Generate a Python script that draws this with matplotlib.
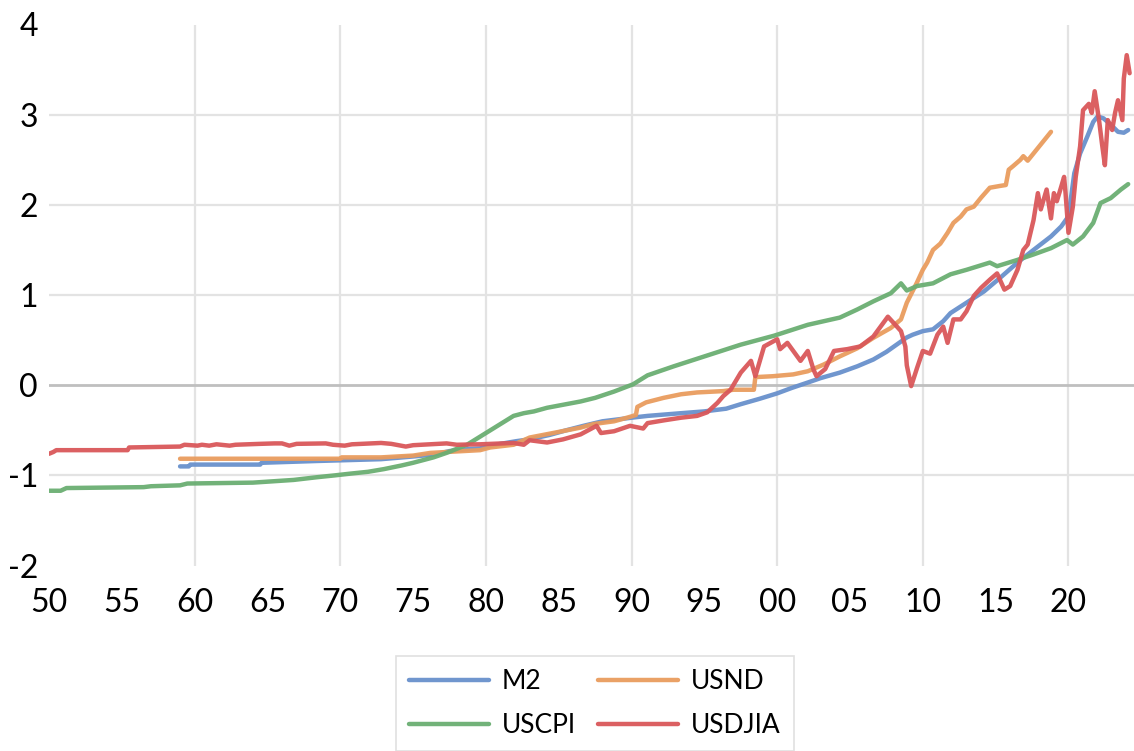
import matplotlib
matplotlib.use("Agg")
import matplotlib.pyplot as plt

plt.rcParams['font.family'] = ['Lato', 'DejaVu Sans']

# ---- data ----
m2_x = [1959.0, 1959.6, 1959.7, 1964.5, 1964.6, 1968.4, 1972.8, 1975.0, 1976.4, 1977.5,
        1978.7, 1979.6, 1981.0, 1982.1, 1983.0, 1984.4, 1985.5, 1986.7, 1988.0, 1989.0,
        1990.0, 1991.1, 1993.4, 1995.0, 1996.5, 1997.5, 1998.8, 2000.0, 2001.0, 2002.1,
        2003.0, 2004.3, 2005.5, 2006.6, 2007.5, 2008.2, 2008.9, 2009.3, 2010.0, 2010.7,
        2011.4, 2011.9, 2013.0, 2014.2, 2015.3, 2016.5, 2017.6, 2018.8, 2019.5, 2019.9,
        2020.0, 2020.4, 2020.8, 2021.3, 2021.7, 2022.0, 2022.4, 2022.9, 2023.4, 2023.8, 2024.1]
m2_y = [-0.90, -0.90, -0.88, -0.88, -0.86, -0.84, -0.82, -0.79, -0.77, -0.73,
        -0.71, -0.70, -0.65, -0.62, -0.60, -0.55, -0.50, -0.45, -0.40, -0.38,
        -0.36, -0.34, -0.31, -0.29, -0.26, -0.21, -0.15, -0.09, -0.03, 0.03,
        0.08, 0.14, 0.21, 0.285, 0.37, 0.45, 0.53, 0.56, 0.60, 0.62,
        0.71, 0.80, 0.915, 1.04, 1.19, 1.36, 1.50, 1.65, 1.76, 1.85,
        1.87, 2.35, 2.57, 2.76, 2.92, 2.98, 2.96, 2.89, 2.81, 2.80, 2.83]

usnd_x = [1959.0, 1970.0, 1970.1, 1972.8, 1975.0, 1976.2, 1979.6, 1980.3, 1981.9, 1983.0,
          1984.6, 1986.5, 1987.4, 1988.8, 1989.9, 1990.3, 1990.4, 1991.0, 1992.2, 1993.4,
          1994.5, 1996.3, 1997.0, 1998.4, 1998.5, 1999.7, 2001.1, 2002.1, 2003.2, 2004.3,
          2005.5, 2006.6, 2007.8, 2008.5, 2008.9, 2009.6, 2010.0, 2010.3, 2010.7, 2011.2,
          2011.7, 2012.1, 2012.6, 2013.0, 2013.5, 2014.0, 2014.6, 2015.3, 2015.7, 2015.9,
          2016.2, 2016.7, 2016.9, 2017.2, 2017.6, 2018.1, 2018.8]
usnd_y = [-0.815, -0.815, -0.80, -0.80, -0.78, -0.75, -0.72, -0.69, -0.66, -0.58,
          -0.53, -0.47, -0.43, -0.40, -0.35, -0.33, -0.24, -0.19, -0.14, -0.10,
          -0.08, -0.065, -0.05, -0.05, 0.09, 0.10, 0.12, 0.155, 0.23, 0.32,
          0.41, 0.525, 0.635, 0.73, 0.915, 1.14, 1.28, 1.36, 1.50, 1.57,
          1.69, 1.80, 1.87, 1.95, 1.98, 2.08, 2.19, 2.21, 2.22, 2.39,
          2.43, 2.50, 2.54, 2.49, 2.57, 2.67, 2.81]

uscpi_x = [1950.0, 1950.8, 1951.2, 1956.5, 1957.0, 1959.0, 1959.5, 1964.0, 1966.8, 1968.4,
           1969.6, 1970.7, 1971.9, 1973.0, 1974.2, 1975.0, 1976.4, 1977.3, 1978.7, 1979.6,
           1980.8, 1981.9, 1982.6, 1983.3, 1984.2, 1986.5, 1987.5, 1988.8, 1990.1, 1991.1,
           1992.9, 1995.2, 1997.5, 1999.8, 2002.1, 2004.3, 2005.5, 2006.6, 2007.8, 2008.5,
           2008.9, 2009.6, 2010.7, 2011.9, 2013.0, 2014.6, 2015.1, 2016.5, 2017.6, 2018.8,
           2019.9, 2020.3, 2021.0, 2021.7, 2022.2, 2022.9, 2023.6, 2024.1]
uscpi_y = [-1.17, -1.17, -1.14, -1.13, -1.12, -1.11, -1.09, -1.08, -1.05, -1.02,
           -1.00, -0.98, -0.96, -0.93, -0.89, -0.86, -0.80, -0.75, -0.66, -0.57,
           -0.45, -0.34, -0.31, -0.29, -0.25, -0.18, -0.14, -0.07, 0.01, 0.11,
           0.21, 0.33, 0.45, 0.55, 0.67, 0.75, 0.84, 0.93, 1.02, 1.13,
           1.05, 1.10, 1.13, 1.23, 1.28, 1.36, 1.32, 1.39, 1.45, 1.52,
           1.61, 1.56, 1.65, 1.80, 2.02, 2.075, 2.17, 2.23]

usdjia_x = [1950.0, 1950.3, 1950.5, 1955.4, 1955.5, 1959.0, 1959.3, 1960.2, 1960.5, 1961.0,
            1961.5, 1962.4, 1962.8, 1964.5, 1965.5, 1966.0, 1966.5, 1967.0, 1969.0, 1969.5,
            1970.3, 1970.8, 1972.8, 1973.5, 1974.5, 1975.0, 1977.3, 1978.0, 1979.6, 1981.9,
            1982.6, 1983.0, 1984.2, 1985.3, 1986.5, 1987.6, 1987.9, 1988.8, 1989.9, 1990.8,
            1991.1, 1992.2, 1993.4, 1994.5, 1995.2, 1995.9, 1996.3, 1996.8, 1997.5, 1998.2,
            1998.5, 1999.1, 2000.0, 2000.2, 2000.7, 2001.6, 2002.1, 2002.5, 2002.7, 2003.3,
            2003.9, 2004.8, 2005.7, 2006.6, 2007.1, 2007.6, 2008.0, 2008.5, 2008.8, 2008.9,
            2009.2, 2009.6, 2010.0, 2010.5, 2011.0, 2011.4, 2011.7, 2012.1, 2012.6, 2013.0,
            2013.5, 2014.0, 2014.6, 2015.1, 2015.6, 2016.0, 2016.5, 2016.9, 2017.2, 2017.6,
            2017.9, 2018.1, 2018.3, 2018.5, 2018.8, 2019.0, 2019.2, 2019.5, 2019.7, 2019.8,
            2020.0, 2020.3, 2020.5, 2020.8, 2021.0, 2021.4, 2021.6, 2021.8, 2022.1, 2022.3,
            2022.5, 2022.7, 2023.0, 2023.2, 2023.4, 2023.7, 2023.8, 2024.0, 2024.2]
usdjia_y = [-0.76, -0.74, -0.72, -0.72, -0.69, -0.68, -0.66, -0.67, -0.66, -0.67,
            -0.655, -0.67, -0.66, -0.65, -0.645, -0.645, -0.67, -0.65, -0.645, -0.66,
            -0.67, -0.655, -0.64, -0.65, -0.68, -0.665, -0.645, -0.66, -0.655, -0.64,
            -0.66, -0.61, -0.635, -0.60, -0.545, -0.45, -0.53, -0.51, -0.45, -0.48,
            -0.42, -0.39, -0.36, -0.34, -0.30, -0.195, -0.12, -0.05, 0.14, 0.27,
            0.10, 0.43, 0.51, 0.40, 0.47, 0.27, 0.38, 0.17, 0.10, 0.18,
            0.38, 0.40, 0.43, 0.54, 0.65, 0.76, 0.69, 0.60, 0.43, 0.22,
            -0.01, 0.19, 0.38, 0.35, 0.56, 0.65, 0.47, 0.73, 0.73, 0.82,
            0.99, 1.08, 1.17, 1.24, 1.06, 1.10, 1.28, 1.50, 1.56, 1.83,
            2.13, 1.95, 2.06, 2.17, 1.85, 2.13, 2.04, 2.20, 2.31, 2.13,
            1.69, 1.98, 2.31, 2.65, 3.05, 3.12, 3.02, 3.26, 2.94, 2.68,
            2.44, 2.94, 2.83, 3.02, 3.16, 2.94, 3.40, 3.66, 3.46]

series_names = ['M2', 'USND', 'USCPI', 'USDJIA']
series_colors = ['#6890CC', '#E99C5E', '#6AAE72', '#D9575A']

y_ticks = [-2, -1, 0, 1, 2, 3, 4]
x_ticks = list(range(1950, 2021, 5))
x_ticklabels = [f"{t % 100:02d}" for t in x_ticks]

# ---- figure ----
fig = plt.figure(figsize=(11.34, 7.51), dpi=100)
ax = fig.add_axes([49 / 1134, 1 - 565.6 / 751, 1 - 49 / 1134, (565.6 - 24.5) / 751])

for yv in [-1, 1, 2, 3]:
    ax.axhline(yv, color='#E3E3E3', lw=1.6, zorder=0)
for xv in range(1960, 2021, 10):
    ax.axvline(xv, color='#E3E3E3', lw=1.6, zorder=0)
ax.axhline(0, color='#BFBFBF', lw=2.0, zorder=1)

data = [(m2_x, m2_y), (usnd_x, usnd_y), (uscpi_x, uscpi_y), (usdjia_x, usdjia_y)]
handles = []
for (xs, ys), name, col in zip(data, series_names, series_colors):
    h, = ax.plot(xs, ys, color=col, lw=3.2, alpha=0.95, label=name,
                 solid_joinstyle='round', solid_capstyle='round', zorder=2)
    handles.append(h)

ax.set_xlim(1950, 2024.5)
ax.set_ylim(-2, 4)
ax.set_yticks(y_ticks)
ax.set_yticklabels([str(v) for v in y_ticks])
ax.set_xticks(x_ticks)
ax.set_xticklabels(x_ticklabels)
ax.tick_params(axis='both', length=0, labelsize=23, colors='black')
ax.tick_params(axis='y', pad=8)
ax.tick_params(axis='x', pad=16)
for s in ax.spines.values():
    s.set_visible(False)

order = [0, 2, 1, 3]
leg = fig.legend([handles[i] for i in order], [series_names[i] for i in order],
                 ncol=2, loc='upper center',
                 bbox_to_anchor=(595 / 1134, 1 - 656 / 751),
                 bbox_transform=fig.transFigure, borderaxespad=0,
                 fontsize=19, frameon=True, fancybox=False,
                 edgecolor='#D9D9D9', handlelength=3.0, handletextpad=0.5,
                 columnspacing=0.85, labelspacing=0.72, borderpad=0.5)
leg.get_frame().set_linewidth(1.2)
for lh in leg.get_lines():
    lh.set_linewidth(3.2)

fig.savefig('out.png', dpi=100)
